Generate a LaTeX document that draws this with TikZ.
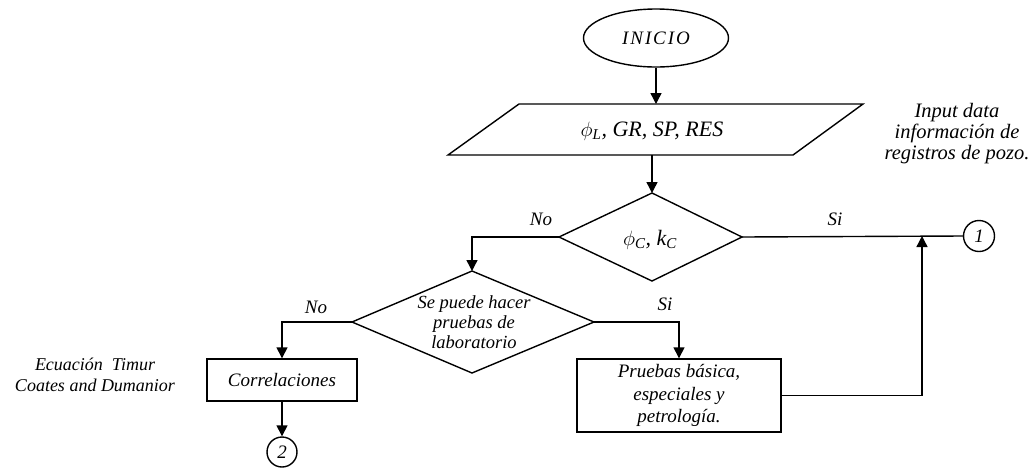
\documentclass[tikz,border=0pt]{standalone}
\usepackage{fontspec}
\setmainfont{Liberation Serif}
\usetikzlibrary{arrows.meta,shapes.geometric}
\begin{document}
\begin{tikzpicture}[x=1pt,y=-1pt,line width=1.4pt,
  conn/.style={-{Triangle[length=11pt,width=11pt]}},
  txt/.style={font=\itshape\fontsize{18}{21}\selectfont,align=center,inner sep=0pt},
  lbl/.style={font=\itshape\fontsize{19}{21}\selectfont,inner sep=0pt},
  boxnode/.style={draw,rectangle,inner sep=0pt,align=center,font=\itshape\fontsize{19}{22.5}\selectfont},
  conncirc/.style={draw,circle,minimum size=31pt,inner sep=0pt,font=\itshape\fontsize{19}{21}\selectfont}]
\useasboundingbox (0,0) rectangle (1034,467);

% start
\node[draw,ellipse,minimum width=145pt,minimum height=58pt,inner sep=0pt,
  font=\itshape\fontsize{19}{21}\selectfont] (start) at (656,38) {\addfontfeature{LetterSpace=10}INICIO};

% input parallelogram
\draw (519,104) -- (863,104) -- (793,155) -- (448,155) -- cycle;
\coordinate (ptop) at (656,104);
\coordinate (pbot) at (652,155);
\node[inner sep=0pt,font=\itshape\fontsize{22}{24}\selectfont] (inp) at (652,131)
  {$\phi$\textsubscript{\fontsize{15}{15}\selectfont L}, GR, SP, RES};

% diamond 1
\coordinate (d1t) at (652,193);
\coordinate (d1r) at (742,237);
\coordinate (d1b) at (652,281);
\coordinate (d1l) at (559,237);
\draw (d1t) -- (d1r) -- (d1b) -- (d1l) -- cycle;
\node[inner sep=0pt,font=\itshape\fontsize{22}{24}\selectfont] (d1) at (650,240)
  {$\phi$\textsubscript{\fontsize{15}{15}\selectfont C}, k\textsubscript{\fontsize{15}{15}\selectfont C}};

% diamond 2
\coordinate (d2t) at (472,271);
\coordinate (d2r) at (594,322);
\coordinate (d2b) at (472,373);
\coordinate (d2l) at (352,322);
\draw (d2t) -- (d2r) -- (d2b) -- (d2l) -- cycle;
\node[txt,font=\itshape\fontsize{18.5}{20}\selectfont] (d2) at (474,322) {Se puede hacer\\pruebas de\\laboratorio};

% boxes
\node[boxnode,minimum width=150pt,minimum height=42pt] (corr) at (282,380) {Correlaciones};
\node[boxnode,minimum width=204pt,minimum height=73pt] (prue) at (679,395.5) {Pruebas básica,\\especiales y\\petrología.};

% connectors (circles)
\node[conncirc] (c1) at (979,236) {1};
\node[conncirc,minimum size=30pt] (c2) at (282,452) {2};

% side texts
\node[txt] (side1) at (95,375) {Ecuación\ \ Timur\\Coates and Dumanior};
\node[txt,font=\itshape\fontsize{20.5}{21}\selectfont] (side2) at (957,134) {Input data\\información de\\registros de pozo.};

% arrows
\coordinate (j1) at (922,236);
\draw[conn] (start.south) -- (ptop);
\draw[conn] (pbot) -- (d1t);
\draw (d1r) -- (c1.west);
\draw[conn] (prue.east) -| (j1);
\draw[conn] (d1l) -| (d2t);
\draw[conn] (d2r) -| (prue.north);
\draw[conn] (d2l) -| (corr.north);
\draw[conn] (corr.south) -- (c2.north);

% labels
\node[lbl] (no1) at (541,219) {No};
\node[lbl] (si1) at (835,219) {Si};
\node[lbl] (si2) at (665,304) {Si};
\node[lbl] (no2) at (316,307) {No};
\end{tikzpicture}
\end{document}
